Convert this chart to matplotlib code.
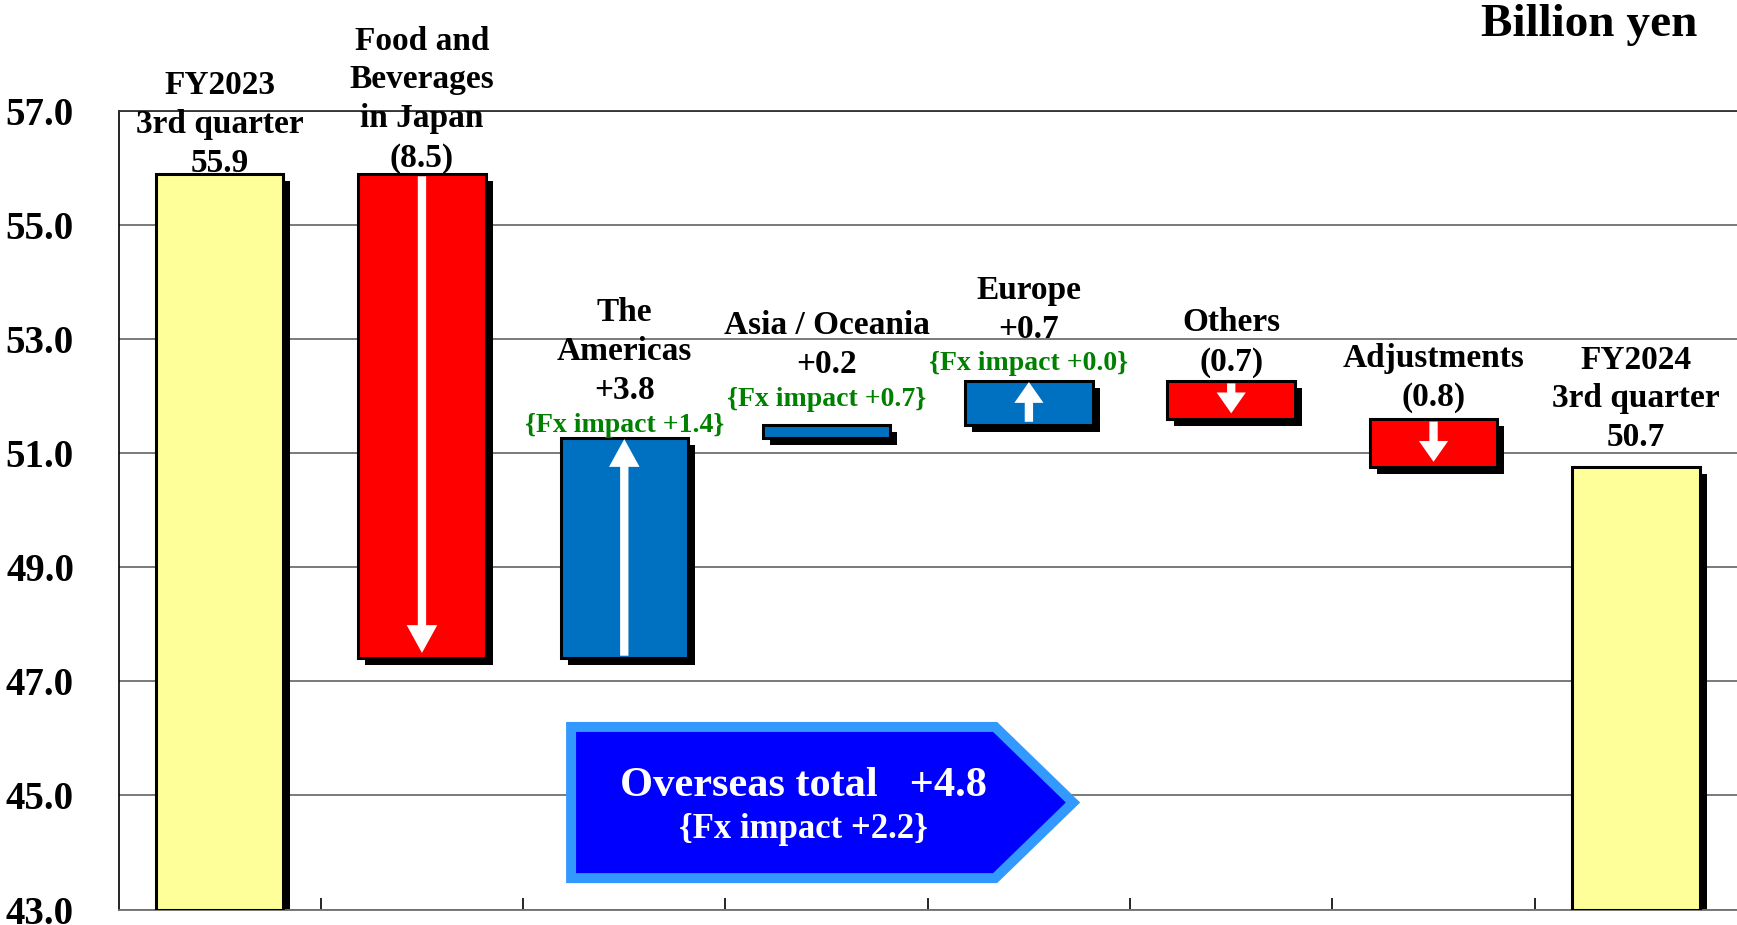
import matplotlib
matplotlib.use("Agg")
import matplotlib.pyplot as plt
import matplotlib.transforms as mtransforms
from matplotlib.patches import Polygon, FancyArrowPatch

# ---------------- data ----------------
category_names = ["FY2023\n3rd quarter", "Food and\nBeverages\nin Japan", "The\nAmericas",
                  "Asia / Oceania", "Europe", "Others", "Adjustments", "FY2024\n3rd quarter"]
value_labels = ["55.9", "(8.5)", "+3.8", "+0.2", "+0.7", "(0.7)", "(0.8)", "50.7"]
fx_labels = [None, None, "{Fx impact +1.4}", "{Fx impact +0.7}", "{Fx impact +0.0}", None, None, None]
start_value = 55.9
change_values = [-8.5, 3.87, 0.23, 0.77, -0.67, -0.85]   # bar heights
end_value = 50.75
overseas_total_label = "Overseas total   +4.8"
overseas_fx_label = "{Fx impact +2.2}"
y_ticks = [43.0, 45.0, 47.0, 49.0, 51.0, 53.0, 55.0, 57.0]
unit_label = "Billion yen"

# ---------------- style ----------------
FONT = "Liberation Serif"
plt.rcParams["font.family"] = [FONT, "DejaVu Serif"]
plt.rcParams["font.weight"] = "bold"
YELLOW = "#FFFF99"
RED = "#FF0000"
BLUE = "#0070C0"
GREEN = "#008000"
GRID = "#707070"

W, H = 1737, 925
fig = plt.figure(figsize=(W / 100, H / 100), dpi=100)
ax = fig.add_axes([118.5 / W, 1 - 909.5 / H, (W - 118.5) / W, (909.5 - 110.8) / H])

ax.set_xlim(-0.5, 7.5)
ax.set_ylim(y_ticks[0], y_ticks[-1])

# gridlines
ax.set_yticks(y_ticks)
ax.set_yticklabels([f"{v:.1f}" for v in y_ticks], fontsize=28, fontweight="bold")
ax.tick_params(axis="y", length=0, pad=32)
ax.yaxis.grid(True, color=GRID, lw=1.3, zorder=0)
ax.set_axisbelow(True)
ax.set_xticks([i + 0.5 for i in range(7)])
ax.set_xticklabels([])
ax.tick_params(axis="x", direction="in", length=9, width=1.2, color="black")
ax.spines["right"].set_visible(False)
ax.spines["top"].set_color("#303030")
ax.spines["top"].set_linewidth(1.3)
ax.spines["bottom"].set_color(GRID)
ax.spines["bottom"].set_linewidth(1.3)
ax.spines["left"].set_color("black")
ax.spines["left"].set_linewidth(1.2)

# ---------------- bars ----------------
levels = [start_value]
for c in change_values:
    levels.append(levels[-1] + c)

bottoms, heights, colors = [], [], []
ymin = y_ticks[0]
bottoms.append(ymin); heights.append(start_value - ymin); colors.append(YELLOW)
for i, c in enumerate(change_values):
    lo = min(levels[i], levels[i + 1])
    bottoms.append(lo); heights.append(abs(c)); colors.append(BLUE if c > 0 else RED)
bottoms.append(ymin); heights.append(end_value - ymin); colors.append(YELLOW)
tops = [b + h for b, h in zip(bottoms, heights)]

xs = list(range(len(category_names)))
bw = 0.63
shadow_tr = mtransforms.offset_copy(ax.transData, fig=fig, x=7, y=-7, units="dots")
ax.bar(xs, heights, bottom=bottoms, width=bw, color="black", edgecolor="black",
       linewidth=0, transform=shadow_tr, zorder=2)
ax.bar(xs, heights, bottom=bottoms, width=bw, color=colors, edgecolor="black",
       linewidth=2.2, zorder=3)

# ---------------- arrows ----------------
show_arrow = [True, True, False, True, True, True]
for i, c in enumerate(change_values):
    if not show_arrow[i]:
        continue
    x = i + 1
    a, b = levels[i], levels[i + 1]
    big = abs(c) > 2
    style = ("simple,head_length=2.0,head_width=2.2,tail_width=0.6" if big
             else "simple,head_length=1.5,head_width=2.1,tail_width=0.6")
    arr = FancyArrowPatch((x, a), (x, b), arrowstyle=style, mutation_scale=10,
                          color="white", lw=0, shrinkA=2, shrinkB=1 if c > 0 else -4,
                          zorder=4)
    ax.add_patch(arr)

# ---------------- labels ----------------
label_offsets_px = [-5, 0, 32, 45, 36, 3, 6, 14]
fx_offsets_px = [None, None, 0, 13, 5, None, None, None]
for i in xs:
    txt = category_names[i] + "\n" + value_labels[i]
    ax.annotate(txt, xy=(i, tops[i]), xytext=(0, label_offsets_px[i]),
                textcoords="offset pixels", ha="center", va="bottom",
                fontsize=24, fontweight="bold", linespacing=1.33,
                color="black", zorder=6, annotation_clip=False)
    if fx_labels[i]:
        ax.annotate(fx_labels[i], xy=(i, tops[i]), xytext=(0, fx_offsets_px[i]),
                    textcoords="offset pixels", ha="center", va="bottom",
                    fontsize=20, fontweight="bold", color=GREEN, zorder=6,
                    annotation_clip=False)

# ---------------- overseas box ----------------
box = Polygon([(1.737, 46.20), (3.833, 46.20), (4.218, 44.875), (3.833, 43.55), (1.737, 43.55)],
              closed=True, facecolor="#0000FF", edgecolor="#3399FF", lw=7.2,
              joinstyle="miter", zorder=5)
ax.add_patch(box)
ax.text(2.884, 45.17, overseas_total_label, ha="center", va="center", color="white",
        fontsize=30.5, fontweight="bold", zorder=6)
ax.text(2.884, 44.40, overseas_fx_label, ha="center", va="center", color="white",
        fontsize=25, fontweight="bold", zorder=6)

fig.text(1697 / W, 1 - 36.5 / H, unit_label, ha="right", va="baseline",
         fontsize=34, fontweight="bold")

fig.savefig("out.png", dpi=100)
